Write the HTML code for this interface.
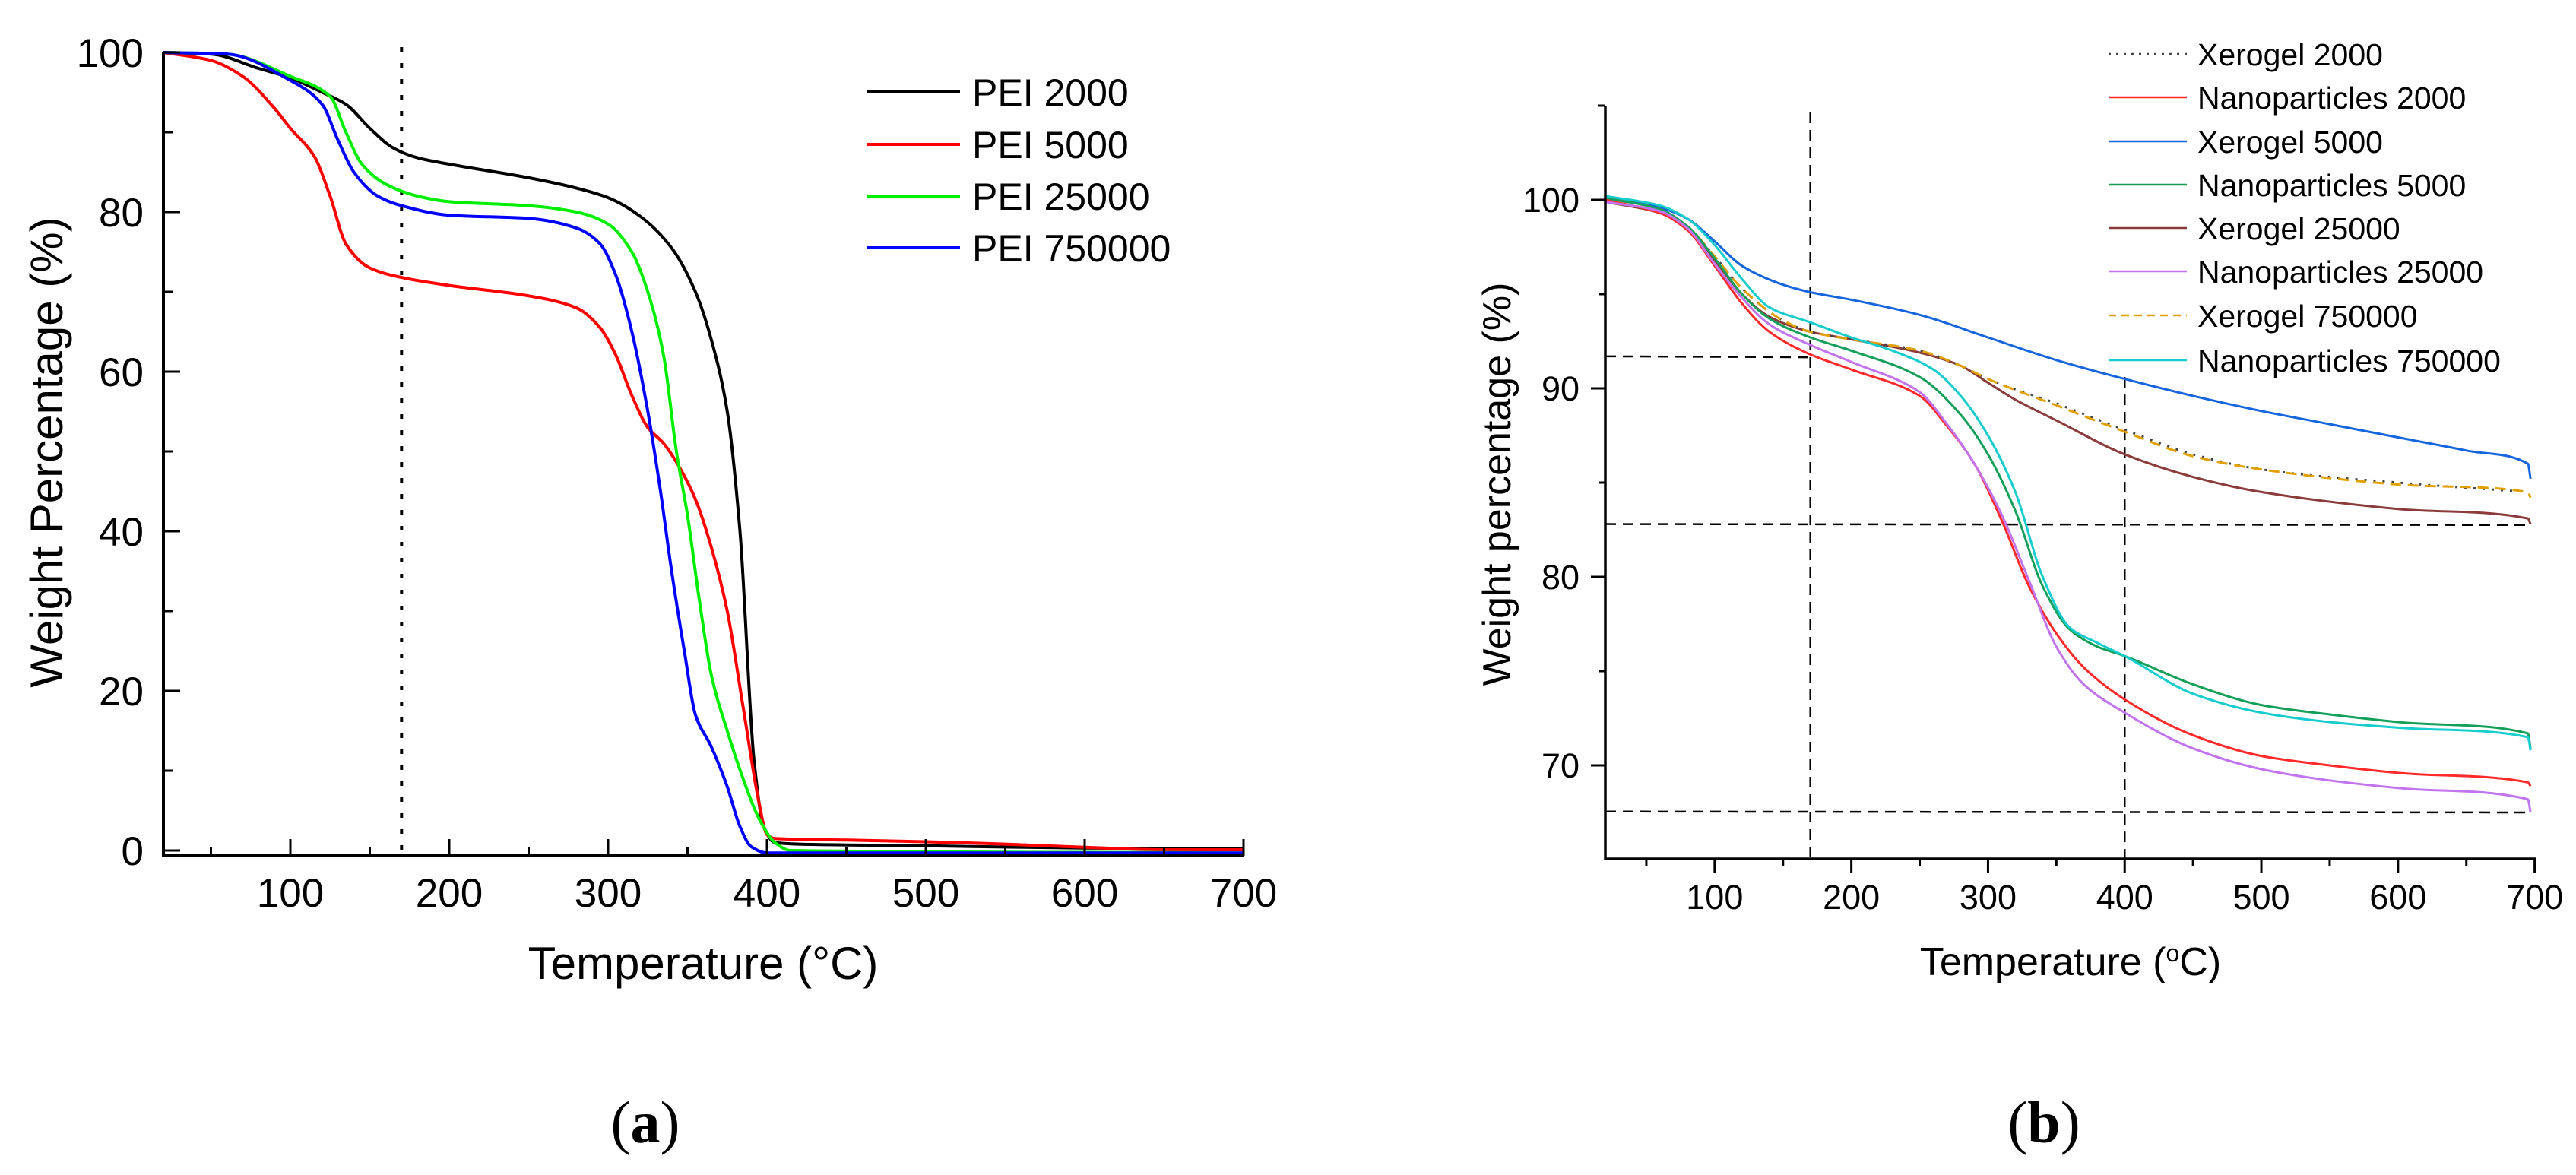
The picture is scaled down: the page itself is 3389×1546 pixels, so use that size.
<!DOCTYPE html>
<html><head><meta charset="utf-8">
<style>
html,body{margin:0;padding:0;background:#fff;}
svg{display:block;font-family:"Liberation Sans",Arial,sans-serif;}
</style></head>
<body>
<svg id="fig" width="3389" height="1546" viewBox="0 0 3389 1546" xmlns="http://www.w3.org/2000/svg">
<rect width="3389" height="1546" fill="#fff"/>
<g id="chartA"></g>
<g id="chartB"></g>
<text x="849" y="1503" text-anchor="middle" font-family="Liberation Serif,serif" font-size="78">(<tspan font-weight="bold">a</tspan>)</text>
<text x="2689" y="1503" text-anchor="middle" font-family="Liberation Serif,serif" font-size="78">(<tspan font-weight="bold">b</tspan>)</text>
</svg>
<script>
// ---------- Chart A data ----------
const seriesANames = ["PEI 2000","PEI 5000","PEI 25000","PEI 750000"];
const seriesAColors = ["#000000","#ff0000","#00ee00","#0000ff"];
const pei2000T = [20,50,80,100,120,135,150,165,180,200,250,280,300,320,340,355,365,375,383,392,398,405,420,500,600,700];
const pei2000V = [100,99.8,98,96.8,95,93.5,90.5,88,86.8,86,84.3,83,81.8,79.5,75.5,70,64,55,40,11,3,1,0.8,0.6,0.3,0.2];
const pei5000T = [20,50,70,90,100,115,125,135,150,170,200,250,280,295,305,315,325,335,345,355,365,375,385,395,400,405,450,500,550,600,650,700];
const pei5000V = [100,99,97,93,90.5,87,82,76,73,71.8,70.8,69.5,68,65.5,62,57,53,51,48,44,38,30,18,6,2,1.5,1.3,1.1,0.8,0.4,0.1,0.1];
const pei25000T = [20,60,100,125,135,145,160,180,200,250,280,300,315,325,335,343,350,357,365,375,385,395,405,415,700];
const pei25000V = [100,99.8,97,94.5,90,86,83.5,82,81.3,80.8,80,78.5,75,70,62,50,42,32,22,15,9,4,1,0,-0.3];
const pei750000T = [20,60,100,120,130,140,155,170,200,250,280,295,305,315,325,333,340,348,355,365,375,383,390,400,700];
const pei750000V = [100,99.8,96.5,93.5,89,85,82,80.8,79.6,79.2,78,76,72,65,55,45,35,25,17,13,8,3,0.5,-0.3,-0.3];
const seriesAT = [pei2000T,pei5000T,pei25000T,pei750000T];
const seriesAV = [pei2000V,pei5000V,pei25000V,pei750000V];
const ticksAX = [100,200,300,400,500,600,700];
const ticksAY = [0,20,40,60,80,100];

// ---------- Chart B data ----------
const seriesBNames = ["Xerogel 2000","Nanoparticles 2000","Xerogel 5000","Nanoparticles 5000","Xerogel 25000","Nanoparticles 25000","Xerogel 750000","Nanoparticles 750000"];
const seriesBColors = ["#444444","#ff2a2a","#1565dc","#14a05a","#8b3b3b","#c273ee","#e0a000","#16cccc"];
const seriesBDash = ["3,9","","","","","","14,9",""];
const xero2000T = [20,60,80,100,120,150,170,200,250,280,300,350,400,450,500,600,695];
const xero2000V = [100.1,99.5,98.6,97,95.3,93.6,93,92.6,92,91.2,90.5,89.2,87.8,86.5,85.7,85,84.5];
const nano2000T = [20,60,80,100,120,140,170,200,250,270,290,310,330,350,370,400,450,500,550,600,695,697];
const nano2000V = [100,99.3,98.4,96.5,94.5,93,91.8,91,89.6,88,86,83,79.5,77,75.2,73.5,71.6,70.5,70,69.6,69.1,68.9];
const xero5000T = [20,60,80,100,120,150,170,200,250,300,350,400,450,500,550,600,650,695,697];
const xero5000V = [100.2,99.6,99,97.8,96.5,95.5,95.1,94.7,93.9,92.7,91.5,90.5,89.6,88.8,88.1,87.4,86.7,86,85.2];
const nano5000T = [20,60,80,100,120,140,170,200,250,280,300,320,340,360,380,400,450,500,550,600,695,697];
const nano5000V = [100.1,99.5,98.6,96.9,95,93.7,92.7,92,90.6,88.6,86.5,83.5,79.5,77.2,76.3,75.8,74.3,73.2,72.7,72.3,71.7,70.9];
const xero25000T = [20,60,80,100,120,140,170,200,250,280,300,320,350,400,450,500,600,695,697];
const xero25000V = [99.9,99.3,98.5,96.8,95,93.8,93,92.6,91.9,91.2,90.3,89.4,88.3,86.5,85.3,84.5,83.6,83.1,82.8];
const nano25000T = [20,60,80,100,120,140,170,200,250,270,290,310,330,350,370,400,450,500,550,600,695,697];
const nano25000V = [99.9,99.4,98.5,96.6,94.8,93.4,92.3,91.4,89.8,88.1,86,83.3,79.8,76.3,74.3,72.8,70.9,69.8,69.2,68.8,68.2,67.5];
const xero750000T = [20,60,80,100,120,150,170,200,250,280,300,350,400,450,500,600,695,697];
const xero750000V = [100.1,99.5,98.6,97,95.3,93.6,93,92.6,92,91.2,90.5,89.1,87.7,86.4,85.7,84.9,84.5,84.2];
const nano750000T = [20,60,80,100,120,140,170,200,230,260,280,300,320,340,360,380,400,450,500,550,600,695,697];
const nano750000V = [100.2,99.7,99,97.6,95.8,94.3,93.5,92.7,92,91,89.6,87.5,84.5,80,77.3,76.5,75.8,73.8,72.8,72.3,72,71.5,70.8];
const seriesBT = [xero2000T,nano2000T,xero5000T,nano5000T,xero25000T,nano25000T,xero750000T,nano750000T];
const seriesBV = [xero2000V,nano2000V,xero5000V,nano5000V,xero25000V,nano25000V,xero750000V,nano750000V];
const ticksBX = [100,200,300,400,500,600,700];
const ticksBY = [70,80,90,100];

const NS = "http://www.w3.org/2000/svg";
function mk(parent, tag, attrs, txt){
  const e = document.createElementNS(NS, tag);
  for (const k in attrs) e.setAttribute(k, attrs[k]);
  if (txt !== undefined) e.textContent = txt;
  parent.appendChild(e);
  return e;
}
// monotone cubic (Fritsch-Carlson) smooth path
function pathFrom(T, V, xs, ys){
  const X = T.map(xs), Y = V.map(ys), n = X.length;
  const d = [], m = new Array(n);
  for (let i=0;i<n-1;i++) d.push((Y[i+1]-Y[i])/((X[i+1]-X[i])||1e-6));
  m[0]=d[0]; m[n-1]=d[n-2];
  for (let i=1;i<n-1;i++){
    if (d[i-1]*d[i]<=0) m[i]=0;
    else { const w1=2*(X[i+1]-X[i])+(X[i]-X[i-1]), w2=(X[i+1]-X[i])+2*(X[i]-X[i-1]);
      m[i]=(w1+w2)/(w1/d[i-1]+w2/d[i]); }
  }
  let s = "M"+X[0].toFixed(1)+","+Y[0].toFixed(1);
  for (let i=0;i<n-1;i++){
    const h=(X[i+1]-X[i])/3;
    s += " C"+(X[i]+h).toFixed(1)+","+(Y[i]+m[i]*h).toFixed(1)+" "+(X[i+1]-h).toFixed(1)+","+(Y[i+1]-m[i+1]*h).toFixed(1)+" "+X[i+1].toFixed(1)+","+Y[i+1].toFixed(1);
  }
  return s;
}

// ---------- Chart A ----------
(function(){
  const g = document.getElementById("chartA");
  const xA = t => 382 + (t-100)*2.09;
  const yA = v => 1119 - v*10.5;
  const x0 = 215, x1 = 1637, yBot = 1126, yTop = 69;
  let e;
  e = mk(g,"line",{x1:xA(170),y1:62,x2:xA(170),y2:yBot,stroke:"#000","stroke-width":4,"stroke-dasharray":"6,15"});
  
  
  for (let i=0;i<seriesAT.length;i++){
    e = mk(g,"path",{d:pathFrom(seriesAT[i],seriesAV[i],xA,yA),fill:"none",stroke:seriesAColors[i],"stroke-width":4,"stroke-linejoin":"round"});
    
    
  }
  e = mk(g,"line",{x1:x0,y1:yTop,x2:x0,y2:yBot+2,stroke:"#000","stroke-width":4});
  
  
  e = mk(g,"line",{x1:x0,y1:yBot,x2:x1,y2:yBot,stroke:"#000","stroke-width":4});
  
  
  for (let t=50;t<=700;t+=50){
    const major = t%100===0;
    e = mk(g,"line",{x1:xA(t),y1:yBot,x2:xA(t),y2:yBot-(major?22:12),stroke:"#000","stroke-width":3});
    
    
  }
  ticksAX.forEach(t=>{
    e = mk(g,"text",{x:xA(t),y:1193,"text-anchor":"middle","font-size":53},String(t));
    
    
  });
  for (let v=0; v<=100; v+=10){
    const major = v%20===0;
    e = mk(g,"line",{x1:x0,y1:yA(v),x2:x0+(major?22:12),y2:yA(v),stroke:"#000","stroke-width":3});
    
    
  }
  ticksAY.forEach(v=>{
    e = mk(g,"text",{x:189,y:yA(v)+19,"text-anchor":"end","font-size":53},String(v));
    
    
  });
  e = mk(g,"text",{x:925,y:1288,"text-anchor":"middle","font-size":60},"Temperature (°C)");
  
  
  e = mk(g,"text",{x:0,y:0,"text-anchor":"middle","font-size":60,transform:"translate(82,595) rotate(-90)"},"Weight Percentage (%)");
  
  
  const rows=[121,190,258,326];
  for (let i=0;i<4;i++){
    e = mk(g,"line",{x1:1140,y1:rows[i],x2:1263,y2:rows[i],stroke:seriesAColors[i],"stroke-width":4});
    
    
    e = mk(g,"text",{x:1279,y:rows[i]+18,"font-size":50},seriesANames[i]);
    
    
  }
})();

// ---------- Chart B ----------
(function(){
  const g = document.getElementById("chartB");
  const xB = t => 2112 + (t-20)*1.798;
  const yB = v => 263 + (100-v)*24.8;
  const x0 = 2112, x1 = 3336, yBot = 1130, yTop = 139;
  let e;
  const dash = {stroke:"#000","stroke-width":2.5,"stroke-dasharray":"14,9",fill:"none"};
  e = mk(g,"line",Object.assign({x1:xB(170),y1:148,x2:xB(170),y2:yBot},dash));
  
  
  e = mk(g,"line",Object.assign({x1:xB(400),y1:yB(90.6),x2:xB(400),y2:yBot},dash));
  
  
  e = mk(g,"line",Object.assign({x1:x0,y1:yB(91.7),x2:xB(170),y2:yB(91.65)},dash));
  
  
  e = mk(g,"line",Object.assign({x1:x0,y1:yB(82.8),x2:xB(697),y2:yB(82.75)},dash));
  
  
  e = mk(g,"line",Object.assign({x1:x0,y1:yB(67.55),x2:xB(697),y2:yB(67.5)},dash));
  
  
  const order=[2,4,0,6,3,7,1,5];
  order.forEach(i=>{
    const at = {d:pathFrom(seriesBT[i],seriesBV[i],xB,yB),fill:"none",stroke:seriesBColors[i],"stroke-width":3,"stroke-linejoin":"round"};
    if (seriesBDash[i]) at["stroke-dasharray"]=seriesBDash[i];
    e = mk(g,"path",at);
    
    
  });
  e = mk(g,"line",{x1:x0,y1:yTop,x2:x0,y2:yBot+2,stroke:"#000","stroke-width":3.5});
  
  
  e = mk(g,"line",{x1:x0,y1:yBot,x2:x1+1,y2:yBot,stroke:"#000","stroke-width":3.5});
  
  
  e = mk(g,"line",{x1:x0,y1:yTop,x2:x0-10,y2:yTop,stroke:"#000","stroke-width":3});
  
  
  for (let t=50;t<=700;t+=50){
    const major = t%100===0;
    e = mk(g,"line",{x1:xB(t),y1:yBot,x2:xB(t),y2:yBot+(major?19:9),stroke:"#000","stroke-width":3});
    
    
  }
  ticksBX.forEach(t=>{
    e = mk(g,"text",{x:xB(t),y:1196,"text-anchor":"middle","font-size":45},String(t));
    
    
  });
  for (let v=70; v<=100; v+=5){
    const major = v%10===0;
    e = mk(g,"line",{x1:x0,y1:yB(v),x2:x0-(major?19:9),y2:yB(v),stroke:"#000","stroke-width":3});
    
    
  }
  ticksBY.forEach(v=>{
    e = mk(g,"text",{x:2078,y:yB(v)+16,"text-anchor":"end","font-size":45},String(v));
    
    
  });
  e = mk(g,"text",{x:2724,y:1283,"text-anchor":"middle","font-size":52});
  
  
  e.innerHTML = 'Temperature (<tspan dy="-18" font-size="32">o</tspan><tspan dy="18">C)</tspan>';
  e = mk(g,"text",{x:0,y:0,"text-anchor":"middle","font-size":52,transform:"translate(1987,637) rotate(-90)"},"Weight percentage (%)");
  
  
  const rows=[71,128,186,243,300,357,415,474];
  for (let i=0;i<8;i++){
    const at={x1:2774,y1:rows[i],x2:2877,y2:rows[i],stroke:seriesBColors[i],"stroke-width":2.5};
    if (seriesBDash[i]) at["stroke-dasharray"] = i===0 ? "3,7" : "10,7";
    e = mk(g,"line",at);
    
    
    e = mk(g,"text",{x:2891,y:rows[i]+15,"font-size":41},seriesBNames[i]);
    
    
  }
})();
</script>
</body></html>
